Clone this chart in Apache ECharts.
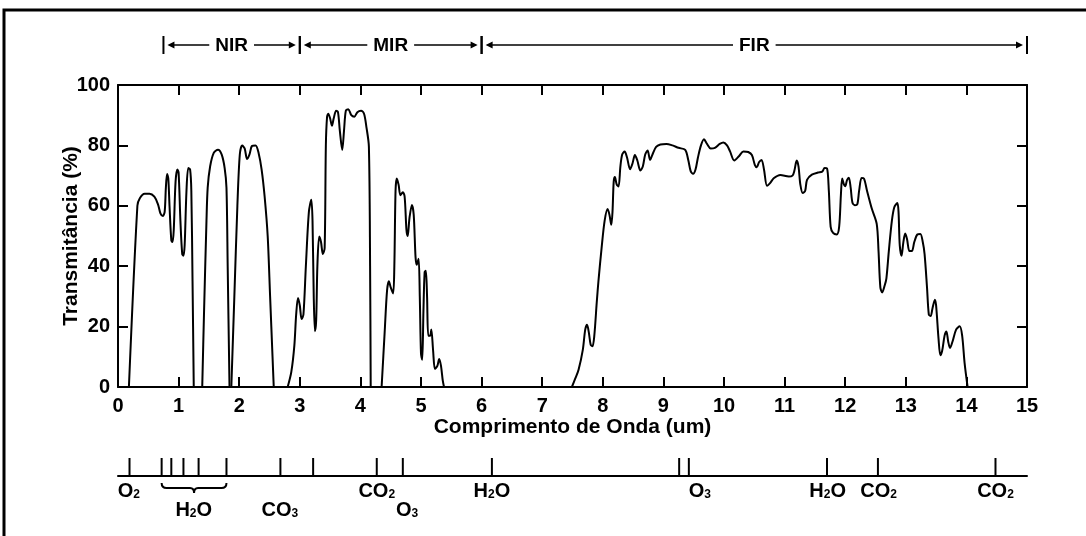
<!DOCTYPE html>
<html>
<head>
<meta charset="utf-8">
<script src="https://cdn.jsdelivr.net/npm/echarts@6/dist/echarts.min.js"></script>
<style>
  html, body { margin: 0; padding: 0; background: #fff; }
  #chart { width: 1086px; height: 536px; }
</style>
</head>
<body>
<div id="chart"></div>
<script>
// transmittance curve, one array per window
var seg1 = [[0.18,0],[0.32,60],[0.36,62.5],[0.44,64],[0.52,64],[0.6,63],[0.66,60.5],[0.7,57.5],[0.74,56.6],[0.77,58],[0.79,66],[0.81,70.5],[0.83,69],[0.85,60],[0.88,48.5],[0.9,48],[0.92,52],[0.95,68],[0.98,72],[1.0,71],[1.03,55],[1.06,44],[1.08,43.5],[1.1,47],[1.13,65],[1.16,72.5],[1.19,72],[1.21,65],[1.23,35],[1.25,0]];
var seg2 = [[1.39,0],[1.42,25],[1.46,55],[1.48,66],[1.52,73],[1.58,77.5],[1.65,78.6],[1.71,77],[1.76,72.5],[1.79,66],[1.81,40],[1.84,0]];
var seg3 = [[1.87,0],[1.92,30],[1.97,60],[2.01,77],[2.05,80],[2.09,79],[2.13,75.5],[2.17,77],[2.21,79.8],[2.27,80],[2.32,77.5],[2.37,72],[2.42,63],[2.47,50],[2.51,30],[2.55,10],[2.57,0]];
var seg4 = [[2.80,0],[2.86,5],[2.91,13.7],[2.94,24],[2.97,29.5],[3.0,27],[3.03,22.5],[3.06,24],[3.1,40],[3.15,58],[3.19,62],[3.21,55],[3.23,30],[3.25,18.5],[3.27,22],[3.29,40],[3.32,49.8],[3.35,48],[3.38,44],[3.41,46],[3.43,80],[3.45,89.5],[3.47,90.5],[3.5,89],[3.53,86.5],[3.56,89],[3.6,91.5],[3.63,91],[3.66,85],[3.7,78.5],[3.73,85],[3.76,91.5],[3.8,92],[3.85,90],[3.9,89.5],[3.95,91],[4.01,91.5],[4.06,90.5],[4.1,86],[4.14,79.6],[4.16,40],[4.17,0]];
var seg5 = [[4.35,0],[4.4,18],[4.44,32],[4.47,35],[4.5,33],[4.54,31],[4.56,40],[4.58,65],[4.6,69],[4.63,67],[4.66,63.5],[4.7,64.5],[4.73,63],[4.76,52],[4.78,50],[4.81,56],[4.85,60.3],[4.88,57],[4.91,43],[4.93,40.5],[4.96,42.5],[4.98,30],[5.0,11],[5.02,9],[5.04,25],[5.06,38],[5.08,38.5],[5.1,30],[5.12,17],[5.15,17],[5.17,19],[5.2,12],[5.23,6],[5.27,7],[5.3,9.3],[5.33,7],[5.36,2],[5.38,0]];
var seg6 = [[7.49,0],[7.55,3],[7.6,5.7],[7.67,12.3],[7.71,19],[7.74,20.6],[7.77,18],[7.8,14],[7.83,13.5],[7.86,17],[7.9,28],[7.93,35.5],[7.98,46],[8.03,55],[8.08,58.9],[8.11,57],[8.14,53.7],[8.16,58],[8.18,68],[8.2,69.5],[8.23,67],[8.26,66.4],[8.29,73],[8.32,77],[8.36,78],[8.4,76],[8.45,72.1],[8.49,74],[8.53,76.8],[8.57,75],[8.62,71.7],[8.66,73],[8.7,77],[8.74,78.3],[8.78,75.2],[8.82,77],[8.88,79.5],[8.95,80.3],[9.05,80.5],[9.15,80],[9.25,79.2],[9.36,78.5],[9.41,75.2],[9.45,71.5],[9.49,70.6],[9.53,72],[9.57,76],[9.62,80],[9.67,82],[9.72,80.5],[9.78,79],[9.85,79.2],[9.93,80.5],[9.99,81],[10.05,80],[10.1,78],[10.17,75],[10.25,76.5],[10.32,78],[10.4,77.8],[10.46,76.8],[10.51,73.5],[10.54,72.8],[10.58,74.5],[10.62,75.2],[10.66,72],[10.71,66.6],[10.76,67.5],[10.82,69.1],[10.93,70.2],[11.07,69.7],[11.13,70],[11.16,71.5],[11.2,75],[11.23,73],[11.26,67],[11.3,64.2],[11.34,65],[11.37,68.6],[11.45,70.3],[11.55,71],[11.62,71.3],[11.66,72.5],[11.7,72.4],[11.73,65],[11.76,53],[11.8,51],[11.86,50.5],[11.9,53],[11.93,64],[11.95,69],[11.98,67],[12.0,66.5],[12.03,68.5],[12.06,69.3],[12.09,66],[12.12,61],[12.16,60.2],[12.2,60.5],[12.23,65],[12.27,69.2],[12.31,69],[12.36,65],[12.44,59],[12.52,54],[12.55,45],[12.58,33],[12.61,31.3],[12.65,33.5],[12.68,36],[12.72,45],[12.77,55],[12.81,59.5],[12.86,60.9],[12.88,58],[12.9,47],[12.93,43.5],[12.96,48],[12.99,50.8],[13.02,49],[13.06,45],[13.1,45],[13.14,48],[13.19,50.5],[13.24,50.7],[13.28,48],[13.31,44],[13.35,33],[13.38,24],[13.41,23.5],[13.44,26],[13.48,28.9],[13.5,27],[13.54,16],[13.57,10.5],[13.6,12],[13.64,17],[13.67,18.4],[13.7,15],[13.73,12.9],[13.77,15],[13.83,19],[13.89,20.1],[13.93,17],[13.97,8],[14.02,0]];

// spectral regions on top
var bandNames = ['NIR', 'MIR', 'FIR'];
var bandFrom = [0.75, 3, 6];
var bandTo = [3, 6, 15];

// absorption lines at the bottom
var absorbX = [0.19, 0.72, 0.88, 1.08, 1.33, 1.79, 2.68, 3.22, 4.27, 4.70, 6.17, 9.26, 9.42, 11.70, 12.54, 14.48];
var gasNames = ['O2', 'H2O', 'CO3', 'CO2', 'O3', 'H2O', 'O3', 'H2O', 'CO2', 'CO2'];
var gasX = [0.18, 1.25, 2.67, 4.27, 4.77, 6.17, 9.6, 11.71, 12.55, 14.48];
var gasRow = [0, 1, 1, 0, 1, 0, 0, 0, 0, 0];
var braceFrom = 0.72, braceTo = 1.79;

var FONT = '"Liberation Sans", Arial, sans-serif';

function subText(s) {
  // digits become subscripts
  return s.replace(/([A-Z]+)|(\d)/g, function (m, a, d) {
    return a ? '{m|' + a + '}' : '{s|' + d + '}';
  });
}

var measureCtx = document.createElement('canvas').getContext('2d');
measureCtx.font = 'bold 19px ' + FONT;

var chart = echarts.init(document.getElementById('chart'));

function curveSeries(data) {
  return {
    type: 'line', xAxisIndex: 0, yAxisIndex: 0, data: data,
    showSymbol: false, smooth: 0.3, silent: true,
    lineStyle: { color: '#000', width: 2 }
  };
}

var axisCommon = {
  axisLine: { onZero: false, lineStyle: { color: '#000', width: 2 } },
  axisTick: { inside: true, length: 10, lineStyle: { color: '#000', width: 2 } },
  splitLine: { show: false }
};

var option = {
  backgroundColor: '#fff',
  animation: false,
  grid: [
    { left: 118, top: 85, width: 909, height: 302 },
    { left: 118, top: 30, width: 909, height: 30 },
    { left: 118, top: 450, width: 909, height: 26 }
  ]
};

option.xAxis = [
  Object.assign({}, axisCommon, {
    gridIndex: 0, type: 'value', min: 0, max: 15, interval: 1, position: 'bottom',
    name: 'Comprimento de Onda (um)', nameLocation: 'middle', nameGap: 30, nameMoveOverlap: false,
    nameTextStyle: { color: '#000', fontWeight: 'bold', fontSize: 21, fontFamily: FONT },
    axisLabel: { color: '#000', fontWeight: 'bold', fontSize: 20, fontFamily: FONT, margin: 9 }
  }),
  Object.assign({}, axisCommon, {
    gridIndex: 0, type: 'value', min: 0, max: 15, interval: 1, position: 'top',
    axisLabel: { show: false }
  }),
  { gridIndex: 1, type: 'value', min: 0, max: 15, show: false },
  { gridIndex: 2, type: 'value', min: 0, max: 15,
    axisLine: { onZero: false, lineStyle: { color: '#000', width: 2 } },
    axisTick: { show: false }, axisLabel: { show: false }, splitLine: { show: false } }
];

option.yAxis = [
  Object.assign({}, axisCommon, {
    gridIndex: 0, type: 'value', min: 0, max: 100, interval: 20, position: 'left',
    name: 'Transmitância (%)', nameLocation: 'middle', nameGap: 36, nameMoveOverlap: false,
    nameTextStyle: { color: '#000', fontWeight: 'bold', fontSize: 21, fontFamily: FONT },
    axisLabel: { color: '#000', fontWeight: 'bold', fontSize: 20, fontFamily: FONT, margin: 8 }
  }),
  Object.assign({}, axisCommon, {
    gridIndex: 0, type: 'value', min: 0, max: 100, interval: 20, position: 'right',
    axisLabel: { show: false }
  }),
  { gridIndex: 1, type: 'value', min: 0, max: 1, show: false },
  { gridIndex: 2, type: 'value', min: 0, max: 1, show: false }
];

option.series = [
  curveSeries(seg1), curveSeries(seg2), curveSeries(seg3),
  curveSeries(seg4), curveSeries(seg5), curveSeries(seg6),
  {
    // NIR / MIR / FIR band markers
    type: 'custom', xAxisIndex: 2, yAxisIndex: 2, silent: true,
    data: bandNames.map(function (n, i) { return [bandFrom[i], bandTo[i]]; }),
    renderItem: function (params, api) {
      var a = api.coord([api.value(0), 0.5]);
      var b = api.coord([api.value(1), 0.5]);
      var name = bandNames[params.dataIndex];
      var cx = (a[0] + b[0]) / 2, y = a[1];
      var hw = measureCtx.measureText(name).width / 2 + 6;
      var st = { stroke: '#000', lineWidth: 1.5 };
      return {
        type: 'group',
        children: [
          { type: 'line', shape: { x1: a[0], y1: y - 9, x2: a[0], y2: y + 9 }, style: { stroke: '#000', lineWidth: 2 } },
          { type: 'line', shape: { x1: b[0], y1: y - 9, x2: b[0], y2: y + 9 }, style: { stroke: '#000', lineWidth: 2 } },
          { type: 'line', shape: { x1: a[0] + 6, y1: y, x2: cx - hw, y2: y }, style: st },
          { type: 'line', shape: { x1: cx + hw, y1: y, x2: b[0] - 6, y2: y }, style: st },
          { type: 'polygon', shape: { points: [[a[0] + 4, y], [a[0] + 11, y - 3.5], [a[0] + 11, y + 3.5]] }, style: { fill: '#000' } },
          { type: 'polygon', shape: { points: [[b[0] - 4, y], [b[0] - 11, y - 3.5], [b[0] - 11, y + 3.5]] }, style: { fill: '#000' } },
          { type: 'text', style: { text: name, x: cx, y: y + 1, align: 'center', verticalAlign: 'middle', font: 'bold 19px ' + FONT, fill: '#000' } }
        ]
      };
    }
  },
  {
    // absorption tick marks
    type: 'custom', xAxisIndex: 3, yAxisIndex: 3, silent: true,
    data: absorbX.map(function (x) { return [x, 0]; }),
    renderItem: function (params, api) {
      var p = api.coord([api.value(0), 0]);
      return { type: 'line', shape: { x1: p[0], y1: p[1] - 18, x2: p[0], y2: p[1] }, style: { stroke: '#000', lineWidth: 2 } };
    }
  },
  {
    // gas labels
    type: 'custom', xAxisIndex: 3, yAxisIndex: 3, silent: true,
    data: gasX.map(function (x, i) { return [x, gasRow[i]]; }),
    renderItem: function (params, api) {
      var p = api.coord([api.value(0), 0]);
      var row = api.value(1);
      return {
        type: 'text',
        style: {
          text: subText(gasNames[params.dataIndex]),
          x: p[0], y: p[1] + 14 + row * 19,
          align: 'center', verticalAlign: 'middle',
          rich: {
            m: { fontSize: 20, fontWeight: 'bold', fontFamily: FONT, color: '#000', verticalAlign: 'bottom', lineHeight: 22 },
            s: { fontSize: 12, fontWeight: 'bold', fontFamily: FONT, color: '#000', verticalAlign: 'bottom', lineHeight: 11 }
          }
        }
      };
    }
  },
  {
    // brace under the water lines
    type: 'custom', xAxisIndex: 3, yAxisIndex: 3, silent: true,
    data: [[braceFrom, braceTo]],
    renderItem: function (params, api) {
      var a = api.coord([api.value(0), 0]);
      var b = api.coord([api.value(1), 0]);
      var m = (a[0] + b[0]) / 2, y0 = a[1] + 7, y1 = a[1] + 12, y2 = a[1] + 17;
      var d = 'M' + a[0] + ',' + y0 + ' Q' + a[0] + ',' + y1 + ' ' + (a[0] + 5) + ',' + y1 +
        ' L' + (m - 4) + ',' + y1 + ' Q' + m + ',' + y1 + ' ' + m + ',' + y2 +
        ' Q' + m + ',' + y1 + ' ' + (m + 4) + ',' + y1 +
        ' L' + (b[0] - 5) + ',' + y1 + ' Q' + b[0] + ',' + y1 + ' ' + b[0] + ',' + y0;
      return { type: 'path', shape: { pathData: d }, style: { fill: null, stroke: '#000', lineWidth: 2 } };
    }
  }
];

option.graphic = [
  { type: 'rect', shape: { x: 4, y: 10, width: 1090, height: 540 }, style: { fill: null, stroke: '#000', lineWidth: 3 }, silent: true }
];

chart.setOption(option);
</script>
</body>
</html>
